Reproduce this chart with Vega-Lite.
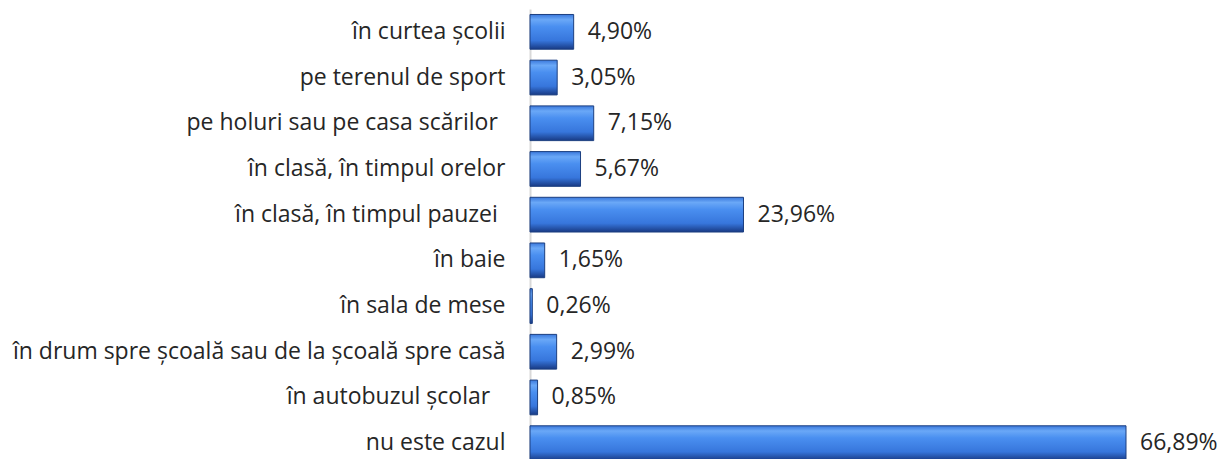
{
  "$schema": "https://vega.github.io/schema/vega-lite/v6.json",
  "autosize": {"type": "none"},
  "padding": {"left": 530, "top": 9, "right": 0, "bottom": 0},
  "width": 695,
  "height": 457,
  "background": "white",
  "config": {"view": {"stroke": null}, "font": "Open Sans"},
  "data": {
    "values": [
      {"loc": "în curtea școlii", "pct": 4.90, "label": "4,90%"},
      {"loc": "pe terenul de sport", "pct": 3.05, "label": "3,05%"},
      {"loc": "pe holuri sau pe casa scărilor\u2004\u200b", "pct": 7.15, "label": "7,15%"},
      {"loc": "în clasă, în timpul orelor", "pct": 5.67, "label": "5,67%"},
      {"loc": "în clasă, în timpul pauzei\u2004\u200b", "pct": 23.96, "label": "23,96%"},
      {"loc": "în baie", "pct": 1.65, "label": "1,65%"},
      {"loc": "în sala de mese", "pct": 0.26, "label": "0,26%"},
      {"loc": "în drum spre școală sau de la școală spre casă", "pct": 2.99, "label": "2,99%"},
      {"loc": "în autobuzul școlar\u2004\u2004\u200b", "pct": 0.85, "label": "0,85%"},
      {"loc": "nu este cazul", "pct": 66.89, "label": "66,89%"}
    ]
  },
  "encoding": {
    "y": {
      "field": "loc", "type": "nominal", "sort": null,
      "scale": {"paddingInner": 0.24, "paddingOuter": 0.12},
      "axis": {
        "title": null, "ticks": false, "domainColor": "#d9d9d9", "domainWidth": 2,
        "labelFontSize": 23, "labelColor": "#262626", "labelPadding": 25, "labelLimit": 600
      }
    },
    "x": {
      "field": "pct", "type": "quantitative",
      "scale": {"domain": [0, 78], "nice": false},
      "axis": null
    }
  },
  "layer": [
    {
      "mark": {
        "type": "bar",
        "cornerRadius": 0,
        "stroke": "#1c3f80",
        "strokeWidth": 1,
        "color": {
          "gradient": "linear", "x1": 0, "y1": 0, "x2": 0, "y2": 1,
          "stops": [
            {"offset": 0, "color": "#3a78dc"},
            {"offset": 0.15, "color": "#6aa8f7"},
            {"offset": 0.35, "color": "#4a8ff0"},
            {"offset": 0.75, "color": "#3776dc"},
            {"offset": 1, "color": "#183a84"}
          ]
        }
      }
    },
    {
      "mark": {"type": "text", "align": "left", "dx": 14, "fontSize": 23, "color": "#262626"},
      "encoding": {"text": {"field": "label"}}
    }
  ]
}
